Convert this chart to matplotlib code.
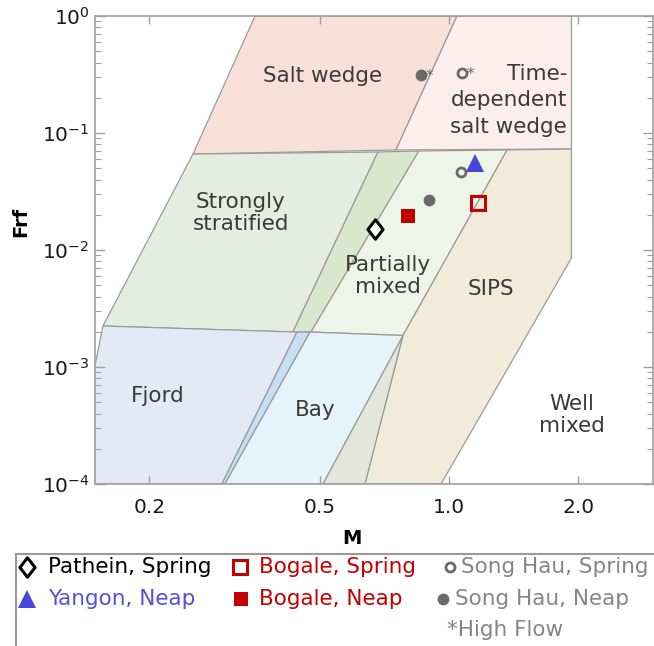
import matplotlib
matplotlib.use("Agg")
import matplotlib.pyplot as plt
from matplotlib.path import Path
from matplotlib.ticker import FixedLocator, FixedFormatter, LogLocator, NullLocator

plt.rcParams["font.family"] = ["DejaVu Sans"]
plt.rcParams["mathtext.default"] = "regular"

# ---- Estuarine regime polygons in (M, Frf) space ----
salt_wedge_M = [0.353, 1.044, 0.752, 0.253]
salt_wedge_Frf = [1.0, 1.0, 0.0716, 0.0661]

time_dep_M = [1.044, 1.93, 1.93, 0.752]
time_dep_Frf = [1.0, 1.0, 0.073, 0.0716]

strat_M = [0.253, 0.683, 0.4325, 0.156]
strat_Frf = [0.0661, 0.0688, 0.00199, 0.00224]

band_M = [0.683, 0.851, 0.4766, 0.4325]
band_Frf = [0.0688, 0.0702, 0.00199, 0.00199]

partial_M = [0.851, 1.366, 0.781, 0.4766]
partial_Frf = [0.0702, 0.0716, 0.00186, 0.00199]

sips_M = [1.366, 1.93, 1.93, 0.958, 0.637, 0.781]
sips_Frf = [0.0716, 0.073, 0.00854, 1e-4, 1e-4, 0.00186]

wedge_M = [0.781, 0.637, 0.508]
wedge_Frf = [0.00186, 1e-4, 1e-4]

bay_M = [0.474, 0.781, 0.508, 0.300]
bay_Frf = [0.00199, 0.00186, 1e-4, 1e-4]

sliver_M = [0.442, 0.474, 0.300, 0.2954]
sliver_Frf = [0.00199, 0.00199, 1e-4, 1e-4]

fjord_M = [0.1493, 0.1493, 0.156, 0.442, 0.2954]
fjord_Frf = [1e-4, 1e-3, 0.00224, 0.00199, 1e-4]

regions = [
    (salt_wedge_M, salt_wedge_Frf, "#f8e0d8"),
    (time_dep_M, time_dep_Frf, "#fbeeec"),
    (strat_M, strat_Frf, "#e5ede0"),
    (band_M, band_Frf, "#d8e8cc"),
    (partial_M, partial_Frf, "#eef5e8"),
    (sips_M, sips_Frf, "#f2ebda"),
    (wedge_M, wedge_Frf, "#e4e6da"),
    (bay_M, bay_Frf, "#e5f3fa"),
    (fjord_M, fjord_Frf, "#e4e9f6"),
    (sliver_M, sliver_Frf, "#c5e0f3"),
]

# ---- Region labels ----
label_text = ["Salt wedge", "Time-", "dependent", "salt wedge", "Strongly\nstratified",
              "Partially\nmixed", "SIPS", "Fjord", "Bay", "Well\nmixed"]
label_M = [0.508, 1.885, 1.885, 1.885, 0.327, 0.721, 1.253, 0.2094, 0.487, 1.936]
label_Frf = [0.307, 0.322, 0.190, 0.112, 0.0207, 0.0060, 0.00464, 0.000565,
             0.000429, 0.000389]
label_ha = ["center", "right", "right", "right", "center", "center", "center",
            "center", "center", "center"]

# ---- Observations ----
pathein_spring = (0.672, 0.0151)
yangon_neap = (1.150, 0.0554)
bogale_spring = (1.169, 0.0252)
bogale_neap = (0.802, 0.0195)
songhau_spring = (1.067, 0.0464)
songhau_neap = (0.898, 0.0268)
songhau_spring_hf = (1.072, 0.326)
songhau_neap_hf = (0.860, 0.313)

# ---- Axes ----
x_ticks = [0.2, 0.5, 1.0, 2.0]
x_tick_labels = ["0.2", "0.5", "1.0", "2.0"]

RED = "#c40000"
BLUE = "#4646dc"
GREY = "#6a6a6a"
GREY_TXT = "#858585"
EDGE = "#9b9b9b"

diamond = Path([(0, 1), (0.78, 0), (0, -1), (-0.78, 0), (0, 1)],
               [Path.MOVETO, Path.LINETO, Path.LINETO, Path.LINETO, Path.CLOSEPOLY])

W, H = 654, 646
fig = plt.figure(figsize=(W / 100, H / 100), dpi=100)
ax = fig.add_axes([95 / W, 1 - 484 / H, (653 - 95) / W, (484 - 16) / H])
ax.set_xscale("log")
ax.set_yscale("log")
ax.set_xlim(0.1495, 2.99)
ax.set_ylim(1e-4, 1.0)

for xs, ys, col in regions:
    ax.fill(xs, ys, facecolor=col, edgecolor=EDGE, linewidth=0.9, zorder=1)

for t, xm, yf, ha in zip(label_text, label_M, label_Frf, label_ha):
    ax.text(xm, yf, t, ha=ha, va="center", fontsize=15.5, color="#3a3a3a",
            linespacing=1.12, zorder=3)

ms_kw = dict(linestyle="none", zorder=5)
ax.plot(*pathein_spring, marker=diamond, markersize=14, markerfacecolor="white",
        markeredgecolor="black", markeredgewidth=2.2, **ms_kw)
ax.plot(*yangon_neap, marker="^", markersize=12.5, color=BLUE, markeredgewidth=0, **ms_kw)
ax.plot(*bogale_spring, marker="s", markersize=10.5, markerfacecolor="none",
        markeredgecolor=RED, markeredgewidth=2.2, **ms_kw)
ax.plot(*bogale_neap, marker="s", markersize=10, color=RED, markeredgewidth=0, **ms_kw)
for pt in (songhau_spring, songhau_spring_hf):
    ax.plot(*pt, marker="o", markersize=6.5, markerfacecolor="none",
            markeredgecolor=GREY, markeredgewidth=2.0, **ms_kw)
for pt in (songhau_neap, songhau_neap_hf):
    ax.plot(*pt, marker="o", markersize=8.5, color=GREY, markeredgewidth=0, **ms_kw)
for pt in (songhau_spring_hf, songhau_neap_hf):
    ax.annotate("*", xy=pt, xytext=(3.5, -1), textcoords="offset points",
                fontsize=11, color=GREY, ha="left", va="center", zorder=6)

ax.xaxis.set_major_locator(FixedLocator(x_ticks))
ax.xaxis.set_major_formatter(FixedFormatter(x_tick_labels))
ax.xaxis.set_minor_locator(NullLocator())
ax.yaxis.set_major_locator(LogLocator(base=10, numticks=10))
ax.yaxis.set_minor_locator(LogLocator(base=10, subs=range(2, 10), numticks=10))

ax.tick_params(axis="both", which="both", direction="in", colors="#a0a0a0",
               labelcolor="#1a1a1a", labelsize=14.5)
ax.tick_params(axis="x", which="major", top=True, length=6, width=1, pad=10)
ax.tick_params(axis="y", which="major", right=True, length=7, width=1, pad=4)
ax.tick_params(axis="y", which="minor", right=True, length=4, width=0.8)
for s in ax.spines.values():
    s.set_color("#a0a0a0")
    s.set_linewidth(1.2)

fig.text(352 / W, 1 - 538 / H, "M", ha="center", va="center", fontsize=14,
         fontweight="bold")
fig.text(21 / W, 1 - 222 / H, "Frf", ha="center", va="center", fontsize=14,
         fontweight="bold", rotation=90)

# ---- Legend panel ----
lg = fig.add_axes([16 / W, 0, 1 - 16 / W + 0.01, (646 - 554) / H])
lg.set_xlim(16, W + 6.54)
lg.set_ylim(646, 554)
lg.set_xticks([])
lg.set_yticks([])
for name, s in lg.spines.items():
    s.set_color("#9a9a9a")
    s.set_linewidth(1.5)
lg.spines["right"].set_visible(False)
lg.spines["bottom"].set_visible(False)

row_y = [567, 599, 630]
lg.plot(27, row_y[0], marker=diamond, markersize=14, markerfacecolor="white",
        markeredgecolor="black", markeredgewidth=2.2, clip_on=False)
lg.text(48, row_y[0], "Pathein, Spring", fontsize=15.5, color="black", va="center")
lg.plot(27, row_y[1], marker="^", markersize=12.5, color=BLUE, markeredgewidth=0)
lg.text(48, row_y[1], "Yangon, Neap", fontsize=15.5, color="#5252d2", va="center")
lg.plot(240, row_y[0], marker="s", markersize=10.5, markerfacecolor="none",
        markeredgecolor=RED, markeredgewidth=2.2)
lg.text(259, row_y[0], "Bogale, Spring", fontsize=15.5, color=RED, va="center")
lg.plot(241, row_y[1], marker="s", markersize=10, color=RED, markeredgewidth=0)
lg.text(259, row_y[1], "Bogale, Neap", fontsize=15.5, color=RED, va="center")
lg.plot(450, row_y[0], marker="o", markersize=6.5, markerfacecolor="none",
        markeredgecolor=GREY, markeredgewidth=2.0)
lg.text(461, row_y[0], "Song Hau, Spring", fontsize=15.5, color=GREY_TXT, va="center")
lg.plot(443, row_y[1], marker="o", markersize=8.5, color=GREY, markeredgewidth=0)
lg.text(455, row_y[1], "Song Hau, Neap", fontsize=15.5, color=GREY_TXT, va="center")
lg.text(447, row_y[2], "*High Flow", fontsize=15.5, color=GREY_TXT, va="center")

fig.savefig("out.png", dpi=100)
